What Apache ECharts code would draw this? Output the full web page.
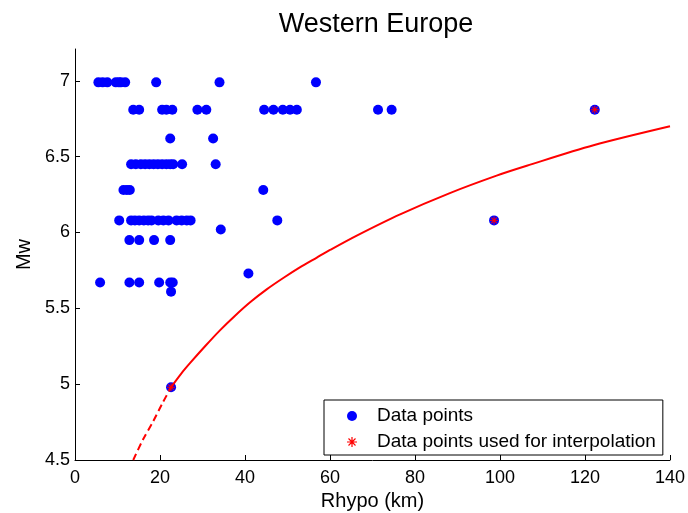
<!DOCTYPE html>
<html>
<head>
<meta charset="utf-8">
<title>Western Europe</title>
<script src="https://cdn.jsdelivr.net/npm/echarts@6/dist/echarts.min.js"></script>
<style>
  html, body { margin: 0; padding: 0; background: #fff; }
  #chart { width: 688px; height: 513px; }
</style>
</head>
<body>
<div id="chart"></div>
<script>
// tick labels
const xTicks = [0, 20, 40, 60, 80, 100, 120, 140]
const yTicks = [4.5, 5, 5.5, 6, 6.5, 7]

// data points (Rhypo km, Mw)
const pointX = [
  5.5, 6.5, 7.6, 9.6, 10.3, 10.8, 11.8, 19.1, 34.0, 56.7,
  13.7, 15.1, 20.5, 21.5, 22.9, 28.8, 30.9, 44.5, 46.7, 48.9, 50.6, 52.2, 71.3, 74.5, 122.3,
  22.4, 32.5,
  13.2, 14.3, 15.5, 16.5, 17.5, 18.5, 19.5, 20.5, 21.5, 22.4, 23.1, 25.2, 33.1,
  11.4, 12.2, 12.9, 44.3,
  10.4, 13.2, 14.1, 15.1, 16.2, 17.2, 18.0, 19.6, 20.8, 22.0, 23.9, 25.1, 26.3, 27.2, 47.6, 98.6,
  34.3,
  12.8, 15.1, 18.6, 22.4,
  40.8,
  5.9, 12.8, 15.1, 19.8, 22.4, 23.0,
  22.6,
  22.6
]
const pointY = [
  6.99, 6.99, 6.99, 6.99, 6.99, 6.99, 6.99, 6.99, 6.99, 6.99,
  6.81, 6.81, 6.81, 6.81, 6.81, 6.81, 6.81, 6.81, 6.81, 6.81, 6.81, 6.81, 6.81, 6.81, 6.81,
  6.62, 6.62,
  6.45, 6.45, 6.45, 6.45, 6.45, 6.45, 6.45, 6.45, 6.45, 6.45, 6.45, 6.45, 6.45,
  6.28, 6.28, 6.28, 6.28,
  6.08, 6.08, 6.08, 6.08, 6.08, 6.08, 6.08, 6.08, 6.08, 6.08, 6.08, 6.08, 6.08, 6.08, 6.08, 6.08,
  6.02,
  5.95, 5.95, 5.95, 5.95,
  5.73,
  5.67, 5.67, 5.67, 5.67, 5.67, 5.67,
  5.61,
  4.98
]

// points used for interpolation
const usedX = [22.6, 98.6, 122.3]
const usedY = [4.98, 6.08, 6.81]

// fitted curve
const dashX = [13.7, 16, 18.4, 20.5, 22.6]
const dashY = [4.5, 4.635, 4.755, 4.87, 4.98]
const curveX = [22.6, 25, 27.1, 30.6, 34.1, 37.6, 41.2, 45.1, 49, 52.9, 56.9, 60, 66.3, 76.5, 88.2, 99.2, 106.3, 122, 140]
const curveY = [4.98, 5.07, 5.14, 5.25, 5.355, 5.45, 5.54, 5.625, 5.70, 5.77, 5.835, 5.885, 5.98, 6.12, 6.26, 6.375, 6.44, 6.575, 6.70]

const zip = (xs, ys) => xs.map((x, i) => [x, ys[i]])

// asterisk marker
const starPath = "path://M0 44L100 44L100 56L0 56Z M44 0L56 0L56 100L44 100Z M11 19L19 11L89 81L81 89Z M81 11L89 19L19 89L11 81Z"

const font = "'Liberation Sans', Arial, sans-serif"

const chart = echarts.init(document.getElementById("chart"), null, { renderer: "canvas" })

const option = {
  animation: false,
  backgroundColor: "#fff",
  textStyle: { fontFamily: font, color: "#000" },
  title: {
    text: "Western Europe",
    left: 371,
    top: 6,
    textAlign: "center",
    textStyle: { fontFamily: font, fontSize: 27, fontWeight: "normal", color: "#000" }
  },
  grid: { left: 75, right: 18, top: 49, bottom: 53, outerBoundsMode: "none", containLabel: false },
  legend: {
    orient: "vertical",
    left: 324,
    top: 400,
    data: ["Data points", "Data points used for interpolation"],
    itemWidth: 40,
    itemHeight: 10,
    itemGap: 6,
    padding: [6, 7, 3, 23],
    backgroundColor: "#fff",
    borderColor: "#000",
    borderWidth: 1,
    selectedMode: false,
    textStyle: { fontFamily: font, fontSize: 19, color: "#000", lineHeight: 20 }
  },
  xAxis: {
    type: "value",
    min: 0,
    max: 140,
    interval: 20,
    name: "Rhypo (km)",
    nameLocation: "middle",
    nameGap: 26,
    nameTextStyle: { fontFamily: font, fontSize: 20, color: "#000" },
    axisLine: { show: true, onZero: false, lineStyle: { color: "#000", width: 1 } },
    axisTick: { show: true, inside: true, length: 5, lineStyle: { color: "#000" } },
    axisLabel: {
      fontFamily: font, fontSize: 18, color: "#000", margin: 9,
      customValues: xTicks
    },
    splitLine: { show: false }
  },
  yAxis: {
    type: "value",
    min: 4.5,
    max: 7.21,
    interval: 0.5,
    name: "Mw",
    nameLocation: "middle",
    nameGap: 37,
    nameTextStyle: { fontFamily: font, fontSize: 20, color: "#000" },
    axisLine: { show: true, onZero: false, lineStyle: { color: "#000", width: 1 } },
    axisTick: { show: true, inside: true, length: 5, lineStyle: { color: "#000" }, customValues: yTicks },
    axisLabel: {
      fontFamily: font, fontSize: 18, color: "#000", margin: 5,
      customValues: yTicks
    },
    splitLine: { show: false }
  },
  series: [
    {
      name: "Data points",
      type: "scatter",
      data: zip(pointX, pointY),
      symbol: "circle",
      symbolSize: 10,
      itemStyle: { color: "#0000ff", opacity: 1 },
      z: 2
    },
    {
      name: "fit dashed",
      type: "line",
      data: zip(dashX, dashY),
      showSymbol: false,
      smooth: 0.3,
      lineStyle: { color: "#ff0000", width: 2, type: [7, 4] },
      z: 3
    },
    {
      name: "fit",
      type: "line",
      data: zip(curveX, curveY),
      showSymbol: false,
      smooth: 0.3,
      lineStyle: { color: "#ff0000", width: 2 },
      z: 3
    },
    {
      name: "Data points used for interpolation",
      type: "scatter",
      data: zip(usedX, usedY),
      symbol: starPath,
      symbolKeepAspect: true,
      symbolSize: 8,
      itemStyle: { color: "#ff0000", opacity: 1 },
      z: 4
    }
  ]
}

chart.setOption(option)
</script>
</body>
</html>
